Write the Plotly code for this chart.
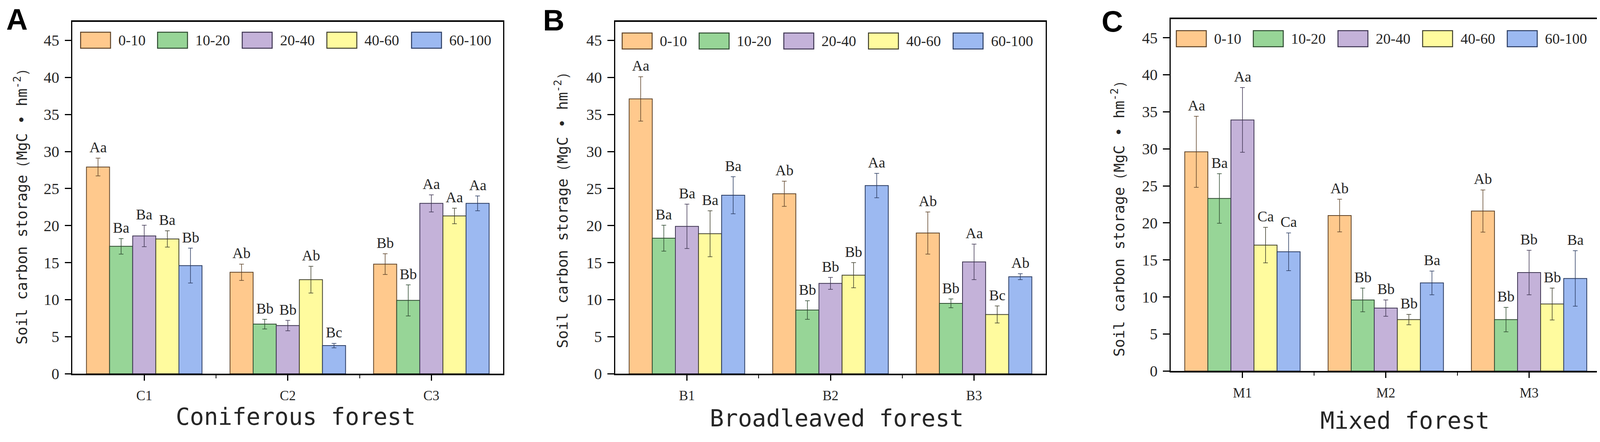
import plotly.graph_objects as go

# reference layout is measured in a 4328x1132 picture; the page viewport is
# 4096 px wide with an 8 px body margin, so the layout is mapped into it.
REF_W, REF_H = 4328, 1132
VIEW_W = 4096
OX, OY = 8, 8
SX = VIEW_W / REF_W
FW, FH = VIEW_W - OX, REF_H - OY

depths = ["0-10", "10-20", "20-40", "40-60", "60-100"]
depth_colors = ["#FFC98D", "#97D597", "#C4B2D9", "#FFFB9E", "#9CB9F1"]
depth_edges = ["#5e4328", "#2e4a30", "#3e3552", "#3f3f2c", "#2b3c62"]

coniferous_sites = ["C1", "C2", "C3"]
coniferous_mean = [[27.9, 13.7, 14.8], [17.2, 6.7, 9.9], [18.6, 6.5, 23.0],
                   [18.2, 12.7, 21.3], [14.6, 3.8, 23.0]]
coniferous_err = [[1.2, 1.1, 1.4], [1.05, 0.65, 2.1], [1.45, 0.7, 1.15],
                  [1.1, 1.8, 1.05], [2.35, 0.3, 1.0]]
coniferous_sig = [["Aa", "Ab", "Bb"], ["Ba", "Bb", "Bb"], ["Ba", "Bb", "Aa"],
                  ["Ba", "Ab", "Aa"], ["Bb", "Bc", "Aa"]]

broadleaved_sites = ["B1", "B2", "B3"]
broadleaved_mean = [[37.1, 24.3, 19.0], [18.3, 8.6, 9.5], [19.9, 12.2, 15.1],
                    [18.9, 13.3, 8.0], [24.1, 25.4, 13.1]]
broadleaved_err = [[3.0, 1.7, 2.85], [1.75, 1.25, 0.6], [3.0, 0.8, 2.4],
                   [3.1, 1.7, 1.15], [2.5, 1.65, 0.4]]
broadleaved_sig = [["Aa", "Ab", "Ab"], ["Ba", "Bb", "Bb"], ["Ba", "Bb", "Aa"],
                   ["Ba", "Bb", "Bc"], ["Ba", "Aa", "Ab"]]

mixed_sites = ["M1", "M2", "M3"]
mixed_mean = [[29.6, 21.0, 21.6], [23.3, 9.6, 6.95], [33.9, 8.5, 13.3],
              [17.0, 6.95, 9.05], [16.1, 11.9, 12.5]]
mixed_err = [[4.8, 2.2, 2.85], [3.35, 1.6, 1.65], [4.37, 1.1, 3.0],
             [2.4, 0.7, 2.15], [2.55, 1.6, 3.75]]
mixed_sig = [["Aa", "Ab", "Ab"], ["Ba", "Bb", "Bb"], ["Aa", "Bb", "Bb"],
             ["Ca", "Bb", "Bb"], ["Ca", "Ba", "Ba"]]

y_ticks = [0, 5, 10, 15, 20, 25, 30, 35, 40, 45]
y_title = "Soil carbon storage（MgC • hm<sup>-2</sup>）"

BARGAP = 0.195
SERIF = "Liberation Serif"
MONO = "DejaVu Sans Mono"
TXT = "#262626"


def px(x):
    return (x * SX - OX) / FW


def py(y):
    return 1 - (y - OY) / FH


panels = [
    dict(sfx="", letter="A", sites=coniferous_sites, mean=coniferous_mean,
         err=coniferous_err, sig=coniferous_sig, title="Coniferous forest",
         xd=(196, 1361), yd=(57, 977), xr=(-0.5, 2.5),
         ytp=(56, 530), xtp=(800, 1089), lp=(46, 50), leg=(218, 105)),
    dict(sfx="2", letter="B", sites=broadleaved_sites, mean=broadleaved_mean,
         err=broadleaved_err, sig=broadleaved_sig, title="Broadleaved forest",
         xd=(1664, 2829), yd=(57, 977), xr=(-0.5, 2.5),
         ytp=(1519, 540), xtp=(2263, 1093), lp=(1498, 52), leg=(1683, 107)),
    dict(sfx="3", letter="C", sites=mixed_sites, mean=mixed_mean,
         err=mixed_err, sig=mixed_sig, title="Mixed forest",
         xd=(3167, 4325), yd=(50, 970), xr=(-0.5, 2.487),
         ytp=(3024, 562), xtp=(3800, 1099), lp=(3009, 55), leg=(3182, 101)),
]

fig = go.Figure()
annotations = []
shapes = []
bw = (1 - BARGAP) / len(depths)

for p in panels:
    xa = "x" + p["sfx"]
    ya = "y" + p["sfx"]
    xs = list(range(len(p["sites"])))
    for d, name in enumerate(depths):
        fig.add_trace(go.Bar(
            x=xs, y=p["mean"][d], name=name, xaxis=xa, yaxis=ya,
            marker=dict(color=depth_colors[d], line=dict(color=depth_edges[d], width=2)),
            error_y=dict(type="data", array=p["err"][d], color=depth_edges[d],
                         thickness=1.5, width=6),
            showlegend=False,
        ))
        for i in xs:
            annotations.append(dict(
                x=i + (d - 2) * bw, y=p["mean"][d][i] + p["err"][d][i],
                xref=xa, yref=ya, text=p["sig"][d][i], showarrow=False,
                xanchor="center", yanchor="bottom", yshift=5,
                font=dict(family=SERIF, size=38, color=TXT)))

    lay_x = "xaxis" + p["sfx"]
    lay_y = "yaxis" + p["sfx"]
    fig.layout[lay_x] = dict(
        domain=[px(p["xd"][0]), px(p["xd"][1])], anchor=ya, range=list(p["xr"]),
        tickmode="array", tickvals=xs, ticktext=p["sites"],
        showline=True, linewidth=4, linecolor="black", mirror=True,
        ticks="outside", ticklen=14, tickwidth=2.5, tickcolor="black",
        minor=dict(tickmode="array", tickvals=[0.5, 1.5], ticks="outside",
                   ticklen=8, tickwidth=2, tickcolor="black"),
        showgrid=False, zeroline=False, ticklabelstandoff=8,
        tickfont=dict(family=SERIF, size=35, color=TXT))
    fig.layout[lay_y] = dict(
        domain=[py(p["yd"][1]), py(p["yd"][0])], anchor=xa, range=[0, 47.5],
        tickmode="array", tickvals=y_ticks,
        showline=True, linewidth=2.5, linecolor="black", mirror=True,
        ticks="outside", ticklen=17, tickwidth=3, tickcolor="black",
        showgrid=False, zeroline=False, ticklabelstandoff=6,
        tickfont=dict(family=SERIF, size=40, color=TXT))

    annotations.append(dict(x=px(p["ytp"][0]), y=py(p["ytp"][1]), xref="paper", yref="paper",
                            text=y_title, textangle=-90, showarrow=False,
                            xanchor="center", yanchor="middle",
                            font=dict(family=MONO, size=38, color=TXT)))
    annotations.append(dict(x=px(p["xtp"][0]), y=py(p["xtp"][1]), xref="paper", yref="paper",
                            text=p["title"], showarrow=False,
                            xanchor="center", yanchor="middle",
                            font=dict(family=MONO, size=60, color=TXT)))
    annotations.append(dict(x=px(p["lp"][0]), y=py(p["lp"][1]), xref="paper", yref="paper",
                            text="<b>" + p["letter"] + "</b>", showarrow=False,
                            xanchor="center", yanchor="middle",
                            font=dict(family="Liberation Sans", size=76, color="black")))

    cx = p["leg"][0]
    cy = p["leg"][1]
    sw, sh, gap, cw = 81, 42, 22, 20.8
    for d, name in enumerate(depths):
        shapes.append(dict(type="rect", xref="paper", yref="paper",
                           x0=px(cx), x1=px(cx + sw), y0=py(cy + sh / 2), y1=py(cy - sh / 2),
                           fillcolor=depth_colors[d], line=dict(color=depth_edges[d], width=2.5)))
        annotations.append(dict(x=px(cx + sw + gap - 3), y=py(cy), xref="paper", yref="paper",
                                text=name, showarrow=False, xanchor="left", yanchor="middle",
                                font=dict(family=SERIF, size=38, color=TXT)))
        cx += sw + gap + len(name) * cw + gap

fig.update_layout(
    width=FW, height=FH, margin=dict(l=0, r=0, t=0, b=0),
    paper_bgcolor="white", plot_bgcolor="white",
    barmode="group", bargap=BARGAP, bargroupgap=0,
    annotations=annotations, shapes=shapes,
)

fig.write_html("out.html")
